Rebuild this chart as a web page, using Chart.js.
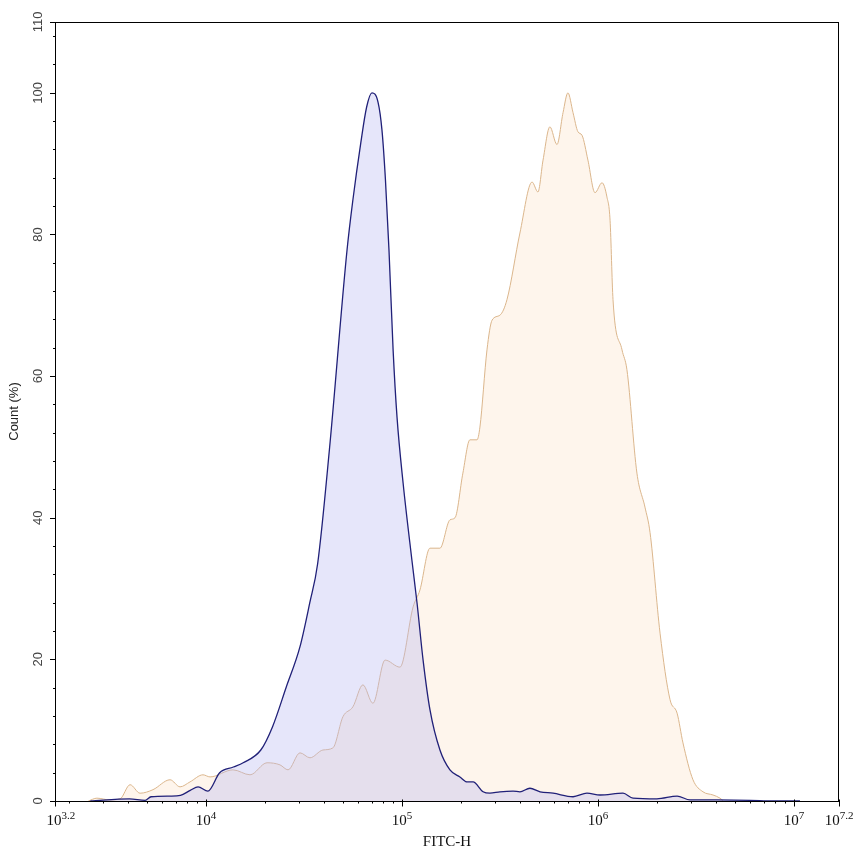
<!DOCTYPE html>
<html>
<head>
<meta charset="utf-8">
<title>FITC-H histogram</title>
<script src="https://cdn.jsdelivr.net/npm/chart.js@4/dist/chart.umd.min.js"></script>
<style>
  html, body { margin: 0; padding: 0; background: #fff; }
  #wrap { width: 853px; height: 856px; position: relative; }
</style>
</head>
<body>
<div id="wrap"><canvas id="chartHist"></canvas></div>
<script>
// --- data: log10(FITC-H) and count (%) per population ---
const blueExp = [3.41, 3.61, 3.69, 3.72, 3.82, 3.87, 3.92, 3.96, 4.01, 4.07,
  4.14, 4.19, 4.28, 4.34, 4.41, 4.48, 4.53, 4.57, 4.63,
  4.72, 4.75, 4.79, 4.82, 4.847, 4.878, 4.898, 4.916,
  4.934, 4.955, 4.975, 5.006, 5.051, 5.077, 5.108, 5.143, 5.194, 5.245,
  5.296, 5.332, 5.363, 5.414, 5.449, 5.50, 5.567, 5.602, 5.653, 5.705,
  5.771, 5.873, 5.944, 6.011, 6.128, 6.179, 6.301, 6.404, 6.47, 6.608,
  6.776, 6.893, 7.031];
const blueCount = [0.0, 0.3, 0.1, 0.6, 0.7, 0.8, 1.5, 2.0, 1.4, 4.0,
  4.8, 5.4, 7.2, 10.5, 16.1, 21.8, 28.0, 33.5, 49.6,
  77.8, 84.9, 92.9, 98.0, 100, 98.7, 94.8, 87.7,
  77.8, 63.7, 54.2, 44.9, 34.0, 28.0, 19.9, 12.9, 7.2, 4.4,
  3.4, 2.7, 2.7, 1.3, 1.1, 1.3, 1.4, 1.3, 1.8, 1.3,
  1.1, 0.6, 1.1, 0.85, 1.1, 0.4, 0.3, 0.7, 0.15, 0.15,
  0.1, 0.0, 0.0];

const orangeExp = [3.40, 3.444, 3.51, 3.562, 3.613, 3.664, 3.73, 3.817, 3.868, 3.919, 3.985,
  4.021, 4.138, 4.225, 4.312, 4.378, 4.419, 4.48, 4.531, 4.597, 4.648,
  4.699, 4.75, 4.801, 4.852, 4.914, 4.99, 5.057, 5.092, 5.143, 5.194,
  5.245, 5.271, 5.311, 5.347, 5.383, 5.398, 5.434, 5.46, 5.50, 5.536,
  5.602, 5.664, 5.694, 5.72, 5.755, 5.791, 5.822, 5.847, 5.873, 5.898,
  5.919, 5.949, 5.985, 6.021, 6.046, 6.062, 6.077, 6.123, 6.148, 6.199,
  6.24, 6.266, 6.317, 6.368, 6.404, 6.434, 6.485, 6.536, 6.587, 6.623, 6.64];
const orangeCount = [0.0, 0.4, 0.15, 0.3, 2.3, 1.1, 1.6, 3.0, 2.0, 2.7, 3.7,
  3.4, 4.4, 3.7, 5.4, 5.1, 4.4, 6.8, 6.1, 7.2, 7.5,
  11.9, 13.3, 16.4, 13.8, 19.9, 18.9, 27.4, 29.8, 35.7, 35.7,
  39.7, 40.0, 46.3, 51.0, 51.0, 52.8, 63.7, 67.9, 68.6, 70.8,
  80.2, 87.4, 86.0, 90.5, 95.2, 92.7, 97.2, 100, 97.2, 94.5,
  94.0, 90.5, 85.9, 87.3, 85.3, 82.0, 70.8, 63.7, 60.9, 46.3,
  41.5, 37.9, 23.7, 14.3, 12.4, 8.2, 3.0, 1.3, 0.85, 0.4, 0.0];

// axis ticks
const yTickValues = [0, 20, 40, 60, 80, 100, 110];
const xTickExp = [3.23, 4, 5, 6, 7, 7.23];
const xTickSup = ['3.2', '4', '5', '6', '7', '7.2'];

const xMin = Math.pow(10, 3.23);
const xMax = Math.pow(10, 7.23);

function toPoints(exps, counts) {
  return exps.map((e, i) => ({ x: Math.pow(10, e), y: counts[i] }));
}

// frame, tick marks and superscript x labels
const axisDecor = {
  id: 'axisDecor',
  afterDraw(chart) {
    const { ctx, chartArea: a, scales: { x, y } } = chart;
    ctx.save();
    ctx.strokeStyle = '#000';
    ctx.lineWidth = 1;
    ctx.strokeRect(a.left + 0.5, a.top + 0.5, a.right - a.left - 1, a.bottom - a.top);

    ctx.beginPath();
    // y ticks
    for (let v = 4; v < 110; v += 4) {
      if (v % 20 === 0) continue;
      const py = Math.round(y.getPixelForValue(v)) + 0.5;
      ctx.moveTo(a.left - 2, py); ctx.lineTo(a.left + 0.5, py);
    }
    yTickValues.forEach(v => {
      const py = Math.round(y.getPixelForValue(v)) + 0.5;
      ctx.moveTo(a.left - 5, py); ctx.lineTo(a.left + 0.5, py);
    });
    // x ticks
    const by = a.bottom + 0.5;
    for (let d = 3; d <= 7; d++) {
      for (let m = 2; m <= 9; m++) {
        const val = m * Math.pow(10, d);
        if (val <= xMin || val >= xMax) continue;
        const px = Math.round(x.getPixelForValue(val)) + 0.5;
        ctx.moveTo(px, by); ctx.lineTo(px, by + 2);
      }
    }
    xTickExp.forEach(e => {
      const px = Math.round(x.getPixelForValue(Math.pow(10, e))) + 0.5;
      ctx.moveTo(px, by - 2); ctx.lineTo(px, by + 5);
    });
    ctx.stroke();

    // x labels: 10 with superscript exponent
    const baseFont = '15px "Liberation Serif", "Times New Roman", serif';
    const supFont = '11px "Liberation Serif", "Times New Roman", serif';
    ctx.fillStyle = '#111';
    ctx.textBaseline = 'alphabetic';
    ctx.textAlign = 'left';
    xTickExp.forEach((e, i) => {
      const px = x.getPixelForValue(Math.pow(10, e));
      ctx.font = baseFont;
      const wb = ctx.measureText('10').width;
      ctx.font = supFont;
      const ws = ctx.measureText(xTickSup[i]).width;
      let start = px - (wb + ws) / 2;
      if (i === 0) start = px - wb / 2 - 1;
      ctx.font = baseFont;
      ctx.fillText('10', start, a.bottom + 24);
      ctx.font = supFont;
      ctx.fillText(xTickSup[i], start + wb, a.bottom + 18);
    });
    ctx.restore();
  }
};

const ctxHist = document.getElementById('chartHist').getContext('2d');
const chartHist = new Chart(ctxHist, {
  type: 'line',
  data: {
    datasets: [{
      label: 'Sample',
      data: toPoints(blueExp, blueCount),
      borderColor: '#202078',
      backgroundColor: 'rgba(184, 184, 241, 0.35)',
      borderWidth: 1.3,
      fill: 'origin',
      cubicInterpolationMode: 'monotone',
      pointRadius: 0
    }, {
      label: 'Control',
      data: toPoints(orangeExp, orangeCount),
      borderColor: '#dbb68c',
      backgroundColor: 'rgb(254, 245, 236)',
      borderWidth: 1,
      fill: 'origin',
      cubicInterpolationMode: 'monotone',
      pointRadius: 0
    }]
  },
  options: {
    responsive: true,
    maintainAspectRatio: false,
    animation: false,
    layout: { padding: { top: 22, right: 14, left: 0, bottom: 0 } },
    plugins: { legend: { display: false }, tooltip: { enabled: false } },
    scales: {
      x: {
        type: 'logarithmic',
        min: xMin,
        max: xMax,
        afterBuildTicks: s => { s.ticks = xTickExp.map(e => ({ value: Math.pow(10, e) })); },
        ticks: { display: false },
        grid: { display: false, drawTicks: false },
        border: { display: false },
        title: {
          display: true, text: 'FITC-H', color: '#111',
          font: { family: '"Liberation Serif", "Times New Roman", serif', size: 15 },
          padding: { top: 0, bottom: 5 }
        },
        afterFit: s => { s.height = 55; }
      },
      y: {
        min: 0,
        max: 110,
        afterBuildTicks: s => { s.ticks = yTickValues.map(v => ({ value: v })); },
        ticks: {
          autoSkip: false, minRotation: 90, maxRotation: 90, crossAlign: 'center', padding: 6,
          color: '#444', font: { family: '"Liberation Sans", Arial, sans-serif', size: 13 }
        },
        grid: { display: false, drawTicks: false },
        border: { display: false },
        title: {
          display: true, text: 'Count (%)', color: '#222',
          font: { family: '"Liberation Sans", Arial, sans-serif', size: 13 },
          padding: { top: 7, bottom: 0 }
        },
        afterFit: s => { s.width = 55; }
      }
    }
  },
  plugins: [axisDecor]
});
</script>
</body>
</html>
